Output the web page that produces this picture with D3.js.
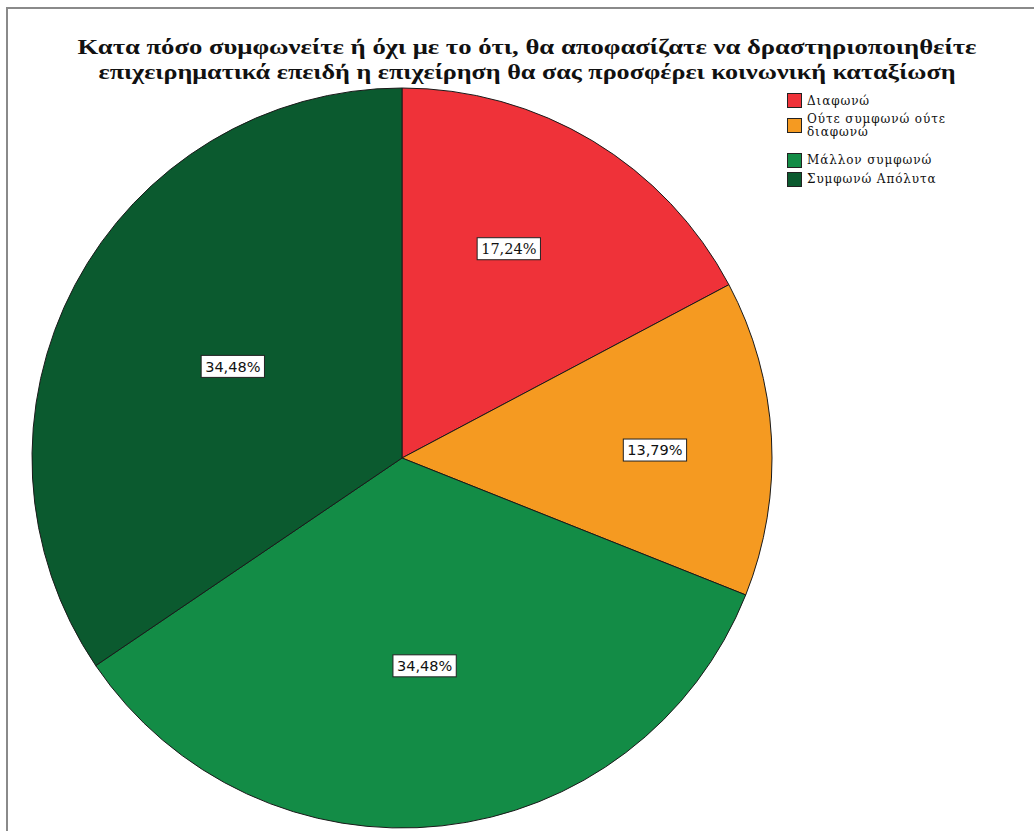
<!DOCTYPE html>
<html>
<head>
<meta charset="utf-8">
<script src="https://cdn.jsdelivr.net/npm/d3@7"></script>
<style>
  html, body { margin: 0; padding: 0; background: #fff; }
  svg { display: block; }
</style>
</head>
<body>
<svg id="chart" width="1034" height="831"></svg>
<script>
// ---- data ----
const titleLines = [
  "Κατα πόσο συμφωνείτε ή όχι με το ότι, θα αποφασίζατε να δραστηριοποιηθείτε",
  "επιχειρηματικά επειδή η επιχείρηση θα σας προσφέρει κοινωνική καταξίωση"
];
const categories = ["Διαφωνώ", "Ούτε συμφωνώ ούτε διαφωνώ", "Μάλλον συμφωνώ", "Συμφωνώ Απόλυτα"];
const legendLines = [["Διαφωνώ"], ["Ούτε συμφωνώ ούτε", "διαφωνώ"], ["Μάλλον συμφωνώ"], ["Συμφωνώ Απόλυτα"]];
const counts = [5, 4, 10, 10];
const percentLabels = ["17,24%", "13,79%", "34,48%", "34,48%"];

// ---- styles / layout ----
const colors = ["#ef3239", "#f59a21", "#138c46", "#0b5a2f"];
const labelRadiusFactor = [0.635, 0.684, 0.565, 0.52];
const labelAngleOffsetDeg = [-4, 1.3, 0, 0.5];
const labelFonts = ["DejaVu Serif, serif", "DejaVu Sans, sans-serif", "DejaVu Sans, sans-serif", "DejaVu Sans, sans-serif"];
const cx = 402, cy = 458, R = 370;

const svg = d3.select("#chart");

// frame (top + left)
svg.append("path")
  .attr("d", "M7,831 V8 H1034")
  .attr("fill", "none")
  .attr("stroke", "#8a8a8a")
  .attr("stroke-width", 2);

// title
const title = svg.append("g");
const titleWidths = [899, 857];
titleLines.forEach((t, i) => {
  title.append("text")
    .attr("x", 527)
    .attr("y", 54 + i * 25)
    .attr("text-anchor", "middle")
    .attr("font-family", "Liberation Serif, serif")
    .attr("font-weight", "bold")
    .attr("font-size", 22)
    .attr("textLength", titleWidths[i])
    .attr("lengthAdjust", "spacingAndGlyphs")
    .attr("fill", "#111")
    .text(t);
});

// pie
const pie = d3.pie().sort(null).value(d => d)(counts);
const arc = d3.arc().innerRadius(0).outerRadius(R);
const g = svg.append("g").attr("transform", `translate(${cx},${cy})`);
g.selectAll("path.slice")
  .data(pie)
  .join("path")
  .attr("class", "slice")
  .attr("d", arc)
  .attr("fill", (d, i) => colors[i])
  .attr("stroke", "#1a1a1a")
  .attr("stroke-width", 1);

// labels
pie.forEach((d, i) => {
  const a = (d.startAngle + d.endAngle) / 2 + labelAngleOffsetDeg[i] * Math.PI / 180;
  const r = R * labelRadiusFactor[i];
  const x = r * Math.sin(a), y = -r * Math.cos(a);
  const lg = g.append("g").attr("transform", `translate(${x},${y})`);
  const txt = lg.append("text")
    .attr("text-anchor", "middle")
    .attr("dy", "0.36em")
    .attr("font-family", labelFonts[i])
    .attr("font-size", 14.5)
    .attr("fill", "#111")
    .text(percentLabels[i]);
  const bb = txt.node().getBBox();
  lg.insert("rect", "text")
    .attr("x", bb.x - 4)
    .attr("y", -11)
    .attr("width", bb.width + 8)
    .attr("height", 22)
    .attr("fill", "#fff")
    .attr("stroke", "#222")
    .attr("stroke-width", 1);
});

// legend
const legend = svg.append("g");
const legendY = [93, 118, 153, 172];
const legendTextY = [[105], [122.5], [164], [183]];
categories.forEach((c, i) => {
  legend.append("rect")
    .attr("x", 787.5)
    .attr("y", legendY[i] + 0.5)
    .attr("width", 14)
    .attr("height", 14)
    .attr("fill", colors[i])
    .attr("stroke", "#222")
    .attr("stroke-width", 1);
  legendLines[i].forEach((line, j) => {
    legend.append("text")
      .attr("x", 807)
      .attr("y", legendTextY[i][0] + j * 13)
      .attr("font-family", "DejaVu Serif, serif")
      .attr("font-size", 12)
      .attr("letter-spacing", 0.9)
      .attr("fill", "#111")
      .text(line);
  });
});
</script>
</body>
</html>
